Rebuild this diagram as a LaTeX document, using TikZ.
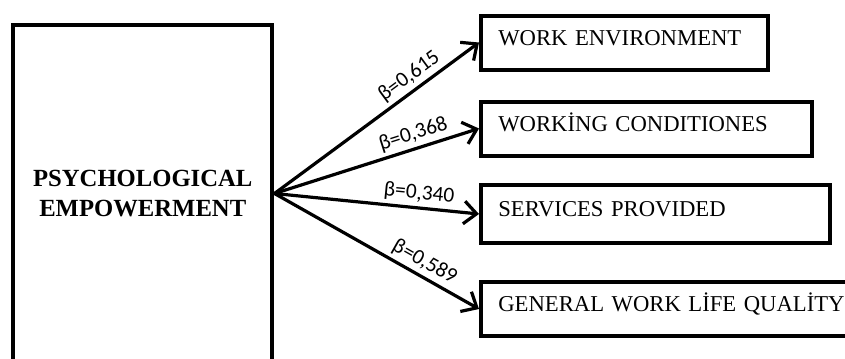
\documentclass[tikz,border=0pt]{standalone}
\usepackage{fontspec}
\setmainfont{Liberation Serif}
\newfontfamily\betafont{Carlito}
\usepackage{tikz}
\usetikzlibrary{arrows.meta}

\begin{document}
\begin{tikzpicture}[x=0.75pt,y=-0.75pt,
    factor/.style={draw,line width=3pt,align=center,minimum width=194.6pt,minimum height=253.5pt,
        font=\bfseries\fontsize{18.5}{22.5}\selectfont},
    outcome/.style={draw,line width=3pt,anchor=west,align=left,inner xsep=13pt,inner ysep=0pt,
        text height=11.5pt,text depth=7.5pt,font=\fontsize{17}{20}\selectfont},
    effect/.style={line width=2.4pt,-{Straight Barb[length=9.5pt,width=17pt]}},
    beta/.style={pos=0.7,above,sloped,inner sep=2.5pt,font=\betafont\fontsize{16}{18}\selectfont}]
    \useasboundingbox (0,0) rectangle (845,358);
    \clip (0,0) rectangle (845,358);

    \node[factor] (pe) at (142.75,193.5) {PSYCHOLOGICAL\\EMPOWERMENT};

    \foreach \name/\y/\w/\h/\label in {
        env/42.5/215/40.5/WORK ENVIRONMENT,
        cond/128.5/248/40.5/WORKİNG CONDITIONES,
        serv/214/262/43/SERVICES PROVIDED,
        qual/309/300/41/GENERAL WORK LİFE QUALİTY
        }{
        \node[outcome,text width=\w pt-26pt,minimum height=\h pt] (\name) at (479,\y) {\label};
    }

    \draw[effect] (pe.east) -- (env.west) node[beta] {β=0,615};
    \draw[effect] (pe.east) -- (cond.west) node[beta] {β=0,368};
    \draw[effect] (pe.east) -- (serv.west) node[beta] {β=0,340};
    \draw[effect] (pe.east) -- (qual.west) node[beta] {β=0,589};
\end{tikzpicture}
\end{document}
